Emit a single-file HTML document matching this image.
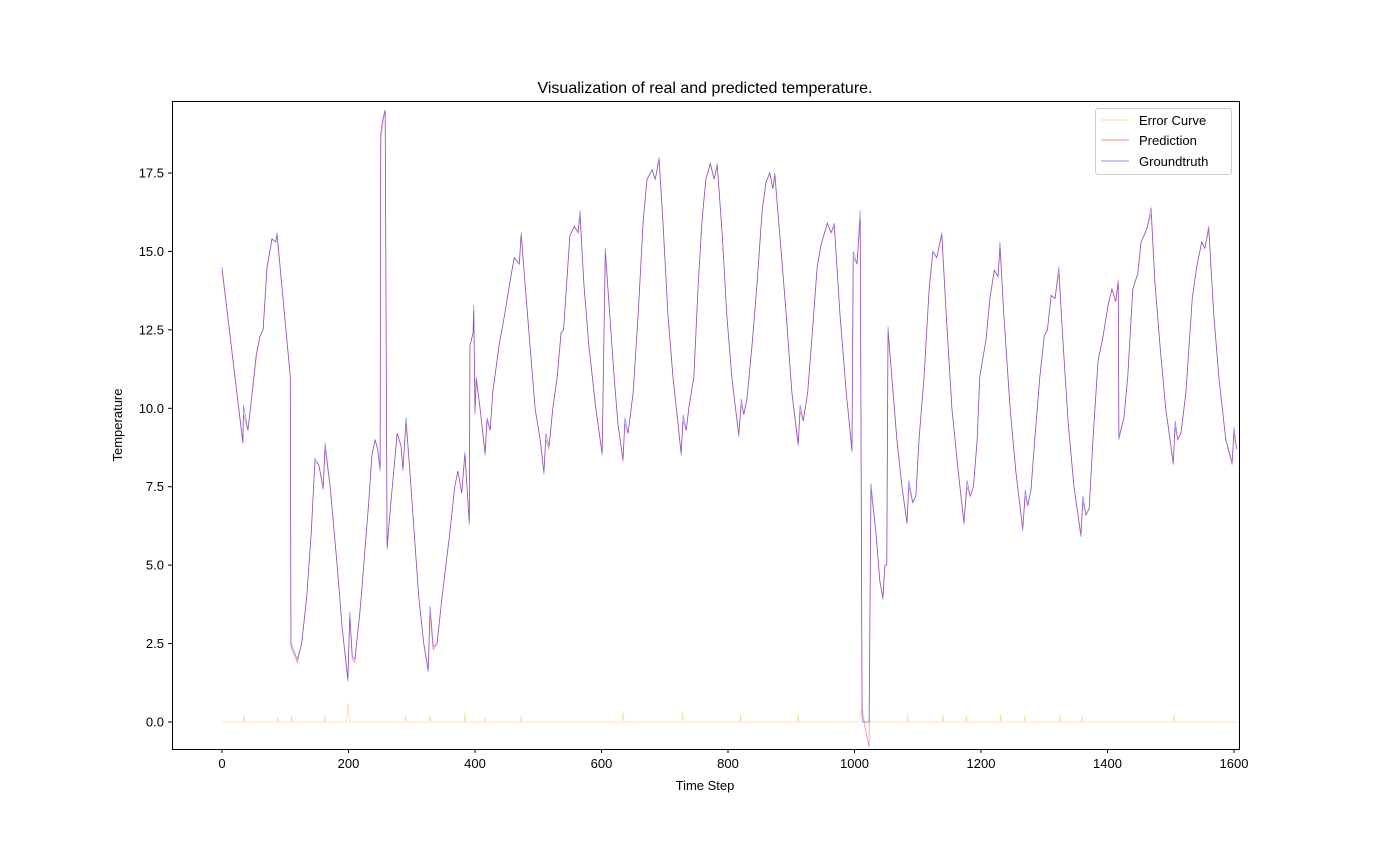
<!DOCTYPE html>
<html><head><meta charset="utf-8">
<style>
body{margin:0;background:#fff;}
svg text{font-family:"Liberation Sans","DejaVu Sans",sans-serif;}
</style></head>
<body>
<svg id="chart" width="1375" height="842" viewBox="0 0 1375 842" xmlns="http://www.w3.org/2000/svg">
<rect width="1375" height="842" fill="#fff"/>
<text x="705" y="93" font-size="16" text-anchor="middle">Visualization of real and predicted temperature.</text>
<g id="series"></g>
<rect x="172.5" y="101.5" width="1067" height="648" fill="none" stroke="#000" stroke-width="1"/>
<g id="xticks"></g>
<g id="yticks"></g>
<text x="705" y="790" font-size="13" text-anchor="middle">Time Step</text>
<text x="122" y="425" font-size="13" text-anchor="middle" transform="rotate(-90 122 425)">Temperature</text>
<g>
<rect x="1095.5" y="108.5" width="136" height="66" rx="3" fill="#fff" fill-opacity="0.8" stroke="#ccc"/>
<g><line x1="1101" y1="120" x2="1129" y2="120" stroke="orange" stroke-opacity="0.3" stroke-width="1.5"/><text x="1139" y="125" font-size="13">Error Curve</text></g>
<g><line x1="1101" y1="140" x2="1129" y2="140" stroke="red" stroke-opacity="0.3" stroke-width="1.5"/><text x="1139" y="145" font-size="13">Prediction</text></g>
<g><line x1="1101" y1="161" x2="1129" y2="161" stroke="blue" stroke-opacity="0.3" stroke-width="1.5"/><text x="1139" y="166" font-size="13">Groundtruth</text></g>
</g>
</svg>
<script>
const steps=[0,33,34,41,45,54,60,65,71,79,85,87,108,109,119,126,134,141,147,153,160,163,171,182,190,199,202,206,210,218,221,228,232,237,242,246,250,251,255,258,261,267,277,283,286,291,297,304,311,319,326,329,334,340,348,354,360,368,373,379,384,391,392,397,398,400,402,408,416,419,424,428,438,447,455,462,470,473,479,487,495,503,509,512,517,523,530,536,540,545,550,557,563,566,572,580,591,601,606,613,620,626,634,637,642,650,658,666,672,680,685,691,697,705,713,721,726,729,734,738,746,753,759,765,772,778,783,791,798,806,817,821,825,830,838,846,854,860,866,871,874,882,892,901,911,914,919,926,934,941,947,957,963,968,977,987,996,998,1004,1009,1012,1023,1026,1034,1040,1045,1048,1051,1053,1059,1067,1075,1083,1086,1092,1097,1102,1110,1118,1124,1130,1138,1145,1154,1164,1173,1178,1183,1188,1194,1198,1208,1214,1221,1227,1230,1236,1246,1255,1266,1270,1274,1279,1285,1293,1300,1305,1311,1317,1323,1330,1338,1347,1358,1361,1366,1371,1377,1385,1393,1401,1407,1413,1417,1418,1426,1432,1440,1448,1453,1462,1469,1475,1483,1492,1504,1507,1511,1516,1524,1534,1541,1549,1554,1560,1568,1576,1587,1597,1600,1604];
const groundtruth=[14.5,8.9,10.1,9.3,10,11.7,12.3,12.5,14.5,15.4,15.3,15.6,11,2.5,2.0,2.5,4,6,8.4,8.2,7.4,8.9,7.5,5,3,1.3,3.5,2.1,2.0,3.5,4.2,6,7,8.5,9.0,8.7,8,18.8,19.3,19.5,5.5,7,9.2,8.8,8,9.7,8,6,4,2.5,1.6,3.7,2.4,2.5,4,5,6,7.5,8,7.3,8.6,6.3,12,12.4,13.3,9.8,11,10,8.5,9.7,9.3,10.5,12,13,14,14.8,14.6,15.6,14,12,10,9,7.9,9.2,8.8,10,11,12.4,12.5,14,15.5,15.8,15.6,16.3,14,12,10,8.5,15.1,13,11,9.5,8.3,9.7,9.2,10.5,13,16,17.3,17.6,17.3,18,16,13,11,9.5,8.5,9.8,9.3,10,11,14,16,17.3,17.8,17.3,17.8,15.5,13,11,9.1,10.3,9.8,10.3,12,14,16.3,17.2,17.5,17,17.5,15.5,13,10.5,8.8,10.1,9.6,10.5,12.6,14.5,15.2,15.9,15.6,15.9,13,10.5,8.6,15,14.6,16.3,0,0,7.6,6,4.5,3.9,5,5,12.6,11,9,7.5,6.3,7.7,7,7.2,9,11,13.8,15,14.8,15.6,13,10,8,6.3,7.7,7.2,7.5,9,11,12.2,13.5,14.4,14.2,15.3,13,10,8,6.1,7.4,6.9,7.4,9,11,12.3,12.5,13.6,13.5,14.5,12,9.5,7.5,5.9,7.2,6.6,6.8,9,11.5,12.3,13.3,13.8,13.4,14,9,9.7,11,13.8,14.3,15.3,15.7,16.4,14,12,10,8.2,9.6,9,9.2,10.5,13.5,14.5,15.3,15.1,15.8,13,11,9,8.2,9.4,8.7];
const prediction=[14.4,8.9,9.8,9.3,10,11.6,12.3,12.5,14.4,15.4,15.3,15.5,11,2.4,1.9,2.5,4,6,8.3,8.2,7.5,8.7,7.5,5,3,1.4,3.3,2.0,1.9,3.5,4.2,6,7,8.5,9.0,8.7,8.1,18.6,19.2,19.5,5.6,7,9.2,8.8,8.1,9.5,8,6,4,2.5,1.7,3.4,2.3,2.5,4,5,6,7.5,8,7.3,8.5,6.4,12,12.4,13.1,9.9,10.9,10,8.6,9.6,9.3,10.5,12,13,14,14.8,14.6,15.5,14,12,10,9,8.0,9.0,8.7,10,11,12.4,12.5,14,15.5,15.8,15.6,16.1,14,12,10,8.6,14.9,13,11,9.5,8.4,9.5,9.2,10.5,13,16,17.3,17.6,17.3,17.9,16,13,11,9.5,8.6,9.6,9.3,10,11,14,16,17.3,17.8,17.3,17.7,15.5,13,11,9.2,10.1,9.8,10.3,12,14,16.3,17.2,17.5,17,17.4,15.5,13,10.5,8.9,9.9,9.6,10.5,12.6,14.5,15.2,15.9,15.6,15.8,13,10.5,8.7,14.8,14.6,16.0,0.3,-0.8,7.4,6,4.5,4.0,5,5,12.4,11,9,7.5,6.4,7.5,7,7.2,9,11,13.8,15,14.8,15.5,13,10,8,6.4,7.5,7.2,7.5,9,11,12.2,13.5,14.4,14.2,15.1,13,10,8,6.2,7.2,6.9,7.4,9,11,12.3,12.5,13.6,13.5,14.3,12,9.5,7.5,6.0,7.0,6.6,6.8,9,11.5,12.3,13.3,13.8,13.4,14.1,9.1,9.7,11,13.8,14.3,15.3,15.7,16.2,14,12,10,8.3,9.4,9,9.2,10.5,13.5,14.5,15.3,15.1,15.7,13,11,9,8.3,9.2,8.7];
const errSteps=[0,34,35,36,87,88,89,109,110,111,162,163,164,197,199,202,289,290,292,328,329,331,383,384,385,415,416,417,472,473,474,633,634,636,727,728,730,819,820,821,910,911,912,1005,1010,1013,1016,1083,1084,1085,1139,1140,1141,1176,1177,1178,1230,1231,1232,1268,1269,1270,1324,1325,1326,1359,1360,1361,1504,1505,1507,1604];
const errValues=[0,0,0.22,0,0,0.15,0,0,0.2,0,0,0.2,0,0,0.6,0,0,0.2,0,0,0.2,0,0,0.3,0,0,0.15,0,0,0.2,0,0,0.3,0,0,0.3,0,0,0.25,0,0,0.25,0,0,0.3,0.4,0,0,0.25,0,0,0.25,0,0,0.2,0,0,0.25,0,0,0.2,0,0,0.25,0,0,0.2,0,0,0.25,0,0];
const xTickVals=[0,200,400,600,800,1000,1200,1400,1600];
const yTickVals=[0,2.5,5,7.5,10,12.5,15,17.5];

const NS='http://www.w3.org/2000/svg';
const xs=v=>222+v*(1012/1600);
const ys=v=>722-v*(549/17.5);
function poly(sx,sy,color,op,name){
  const p=document.createElementNS(NS,'polyline');
  p.setAttribute('points',sx.map((s,i)=>xs(s).toFixed(2)+','+ys(sy[i]).toFixed(2)).join(' '));
  p.setAttribute('fill','none');p.setAttribute('stroke',color);
  p.setAttribute('stroke-opacity',op);p.setAttribute('stroke-width','0.8');
  
  
  document.getElementById('series').appendChild(p);
}
poly(errSteps,errValues,'orange',0.4,'error-curve-line');
poly(steps,prediction,'red',0.45,'prediction-line');
poly(steps,groundtruth,'blue',0.45,'groundtruth-line');
const xg=document.getElementById('xticks');
xTickVals.forEach(v=>{
  const x=xs(v);
  const l=document.createElementNS(NS,'line');
  l.setAttribute('x1',x);l.setAttribute('x2',x);l.setAttribute('y1',749);l.setAttribute('y2',753);l.setAttribute('stroke','#000');
  
  
  xg.appendChild(l);
  const t=document.createElementNS(NS,'text');
  t.setAttribute('x',x);t.setAttribute('y',768);t.setAttribute('font-size','13');t.setAttribute('text-anchor','middle');
  t.textContent=v;
  
  
  xg.appendChild(t);
});
const yg=document.getElementById('yticks');
yTickVals.forEach(v=>{
  const y=ys(v);
  const l=document.createElementNS(NS,'line');
  l.setAttribute('x1',168);l.setAttribute('x2',172);l.setAttribute('y1',y);l.setAttribute('y2',y);l.setAttribute('stroke','#000');
  
  
  yg.appendChild(l);
  const t=document.createElementNS(NS,'text');
  t.setAttribute('x',164);t.setAttribute('y',y+4.5);t.setAttribute('font-size','13');t.setAttribute('text-anchor','end');
  t.textContent=v.toFixed(1);
  
  
  yg.appendChild(t);
});
</script>
</body></html>
